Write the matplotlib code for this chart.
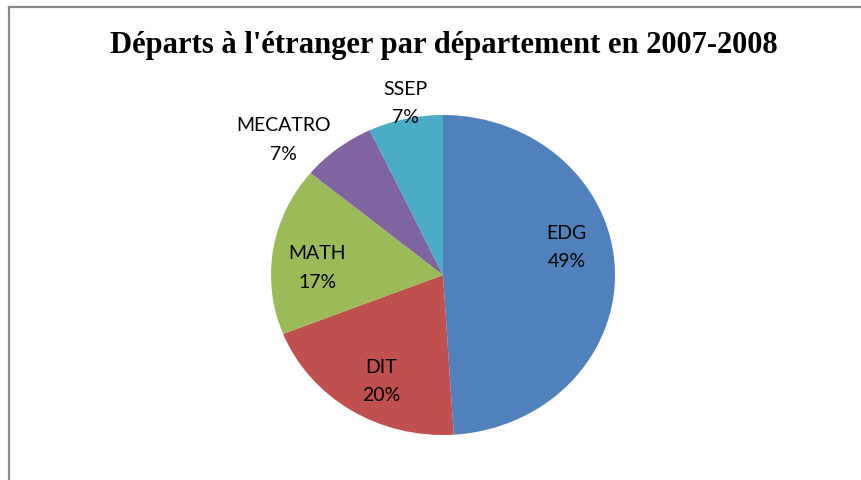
import matplotlib
matplotlib.use("Agg")
from matplotlib import pyplot as plt
from matplotlib.lines import Line2D

departements = ["EDG", "DIT", "MATH", "MECATRO", "SSEP"]
parts = [49, 20, 17, 7, 7]
couleurs = ["#4F81BD", "#C0504D", "#9BBB59", "#8064A2", "#4BACC6"]

# where Excel put each label (axes data units, pie radius = 1)
label_pos = [(0.72, 0.18), (-0.36, -0.66), (-0.73, 0.05), (-0.93, 0.85), (-0.22, 1.08)]

fig = plt.figure(figsize=(8.62, 4.81), dpi=100)

# pie area is slightly wider than tall in the reference
ax = fig.add_axes([271 / 862, 45 / 481, 344 / 862, 320 / 481])
wedges, _ = ax.pie(parts, colors=couleurs, startangle=90, counterclock=False,
                   wedgeprops=dict(linewidth=0))
ax.set_aspect("auto")
ax.set_xlim(-1, 1)
ax.set_ylim(-1, 1)
ax.axis("off")

for nom, val, (x, y) in zip(departements, parts, label_pos):
    ax.text(x, y, f"{nom}\n{val}%", ha="center", va="center", fontsize=14,
            family="Lato", color="black", linespacing=1.8, clip_on=False)

fig.text(0.515, 1 - 46 / 481, "Départs à l'étranger par département en 2007-2008",
         ha="center", va="center", fontsize=22, fontweight="bold",
         family="Liberation Serif")

# chart frame (only top and left edges are visible in the crop)
fig.add_artist(Line2D([9 / 862, 1], [1 - 8 / 481, 1 - 8 / 481], color="#888888", lw=1.6))
fig.add_artist(Line2D([9 / 862, 9 / 862], [0, 1 - 8 / 481], color="#888888", lw=1.6))

fig.savefig("out.png", dpi=100)
